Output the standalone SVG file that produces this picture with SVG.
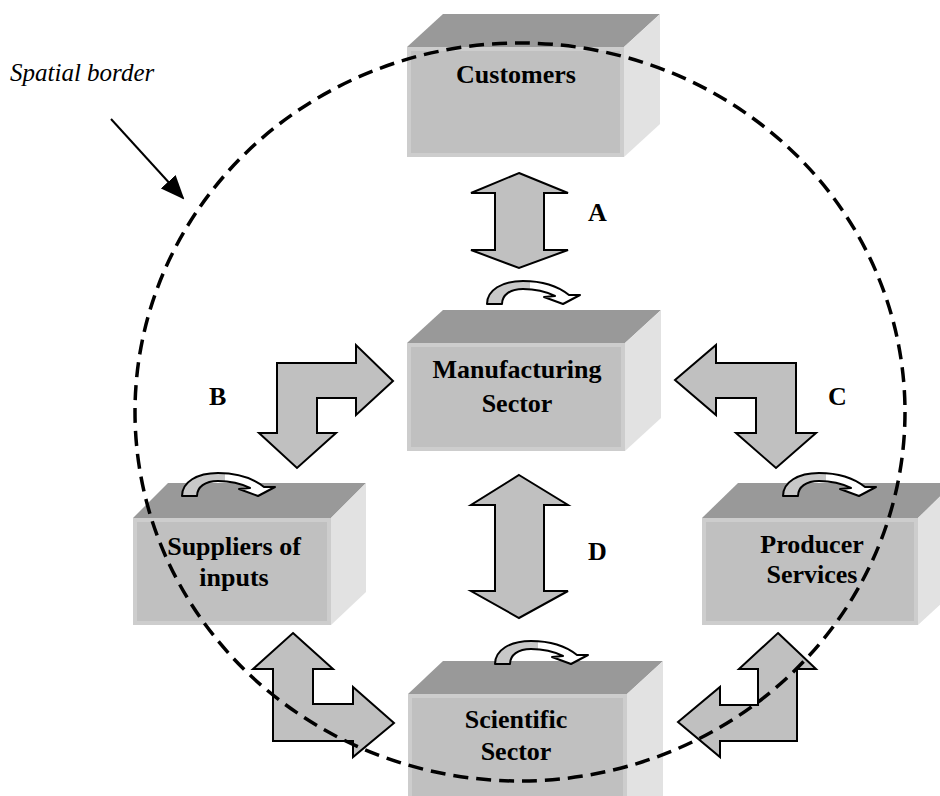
<svg xmlns="http://www.w3.org/2000/svg" width="940" height="796" viewBox="0 0 940 796">
<defs>
<style>
.top{fill:#999999}
.front{fill:#c0c0c0;stroke:#cdcdcd;stroke-width:4}
.side{fill:#e2e2e2}
.lbl{font-family:"Liberation Serif","Times New Roman",serif;font-weight:bold;font-size:26px;fill:#000;text-anchor:middle}
.let{font-family:"Liberation Serif","Times New Roman",serif;font-weight:bold;font-size:26px;fill:#000}
.blk{fill:#c0c0c0;stroke:#000;stroke-width:2;stroke-linejoin:miter}
.curve{fill:url(#cg);stroke:#000;stroke-width:2;stroke-linejoin:round}
</style>
<linearGradient id="cg" x1="0" y1="0" x2="1" y2="0">
<stop offset="0" stop-color="#c8c8c8"/>
<stop offset="0.46" stop-color="#c8c8c8"/>
<stop offset="0.46" stop-color="#ffffff"/>
<stop offset="1" stop-color="#ffffff"/>
</linearGradient>
<path id="curv" class="curve" d="M0,22 C0,8 15,-1 36,-1 C56,-1 72,5 82,13 L93,13 L76,22 L57,15 L68,14 C58,9 48,7 36,7 C23,7 15,13 15,22 Z"/>
<marker id="ah" markerWidth="24" markerHeight="20" refX="22" refY="10" orient="auto" markerUnits="userSpaceOnUse" viewBox="0 0 24 20">
<path d="M0,0 L24,10 L0,20 Z" fill="#000"/>
</marker>
</defs>
<rect width="940" height="796" fill="#fff"/>

<g id="customers">
<polygon class="top" points="407,47 443,14 660,14 624,47"/>
<polygon class="side" points="624,47 660,14 660,124 624,157"/>
<rect class="front" x="409" y="49" width="213" height="106"/>
<text class="lbl" x="516" y="83">Customers</text>
</g>

<g id="manufacturing">
<polygon class="top" points="407,343 443,310 661,310 625,343"/>
<polygon class="side" points="625,343 661,310 661,418 625,451"/>
<rect class="front" x="409" y="345" width="214" height="104"/>
<text class="lbl" x="517" y="378">Manufacturing</text>
<text class="lbl" x="517" y="412">Sector</text>
</g>

<g id="suppliers">
<polygon class="top" points="133,518 168,483 366,483 331,518"/>
<polygon class="side" points="331,518 366,483 366,592 331,625"/>
<rect class="front" x="135" y="520" width="194" height="103"/>
<text class="lbl" x="234" y="555">Suppliers of</text>
<text class="lbl" x="234" y="586">inputs</text>
</g>

<g id="producer">
<polygon class="top" points="702,518 738,483 954,483 918,518"/>
<polygon class="side" points="918,518 954,483 954,592 918,625"/>
<rect class="front" x="704" y="520" width="212" height="103"/>
<text class="lbl" x="812" y="553">Producer</text>
<text class="lbl" x="812" y="583">Services</text>
</g>

<g id="scientific">
<polygon class="top" points="408,694 443,661 663,661 627,694"/>
<polygon class="side" points="627,694 663,661 663,800 627,800"/>
<rect class="front" x="410" y="696" width="215" height="110"/>
<text class="lbl" x="516" y="728">Scientific</text>
<text class="lbl" x="516" y="760">Sector</text>
</g>

<g id="connectors">
<polygon id="arrowA" class="blk" points="519,173 568,193 544,193 544,250 568,250 519,268 471,250 495,250 495,193 471,193"/>
<polygon id="arrowD" class="blk" points="519,475 568,505 544,505 544,591 568,591 519,618 471,591 495,591 495,505 471,505"/>
<polygon id="arrowB" class="blk" points="393,381 356,415 356,398 317,398 317,433 336,433 297,468 259,433 277,433 277,363 356,363 356,345"/>
<polygon id="arrowC" class="blk" points="675,380 716,345 716,363 796,363 796,433 816,433 776,468 736,433 756,433 756,398 716,398 716,415"/>
<polygon id="arrowSL" class="blk" points="293,633 333,669 313,669 313,704 353,704 353,687 394,723 353,757 353,741 273,741 273,669 253,669"/>
<polygon id="arrowSR" class="blk" points="778,633 816,669 797,669 797,741 720,741 720,757 678,722 720,687 720,705 758,705 758,669 739,669"/>
<use href="#curv" x="487" y="282"/>
<use href="#curv" x="182" y="474"/>
<use href="#curv" x="783" y="474"/>
<use href="#curv" x="495" y="642"/>
<line x1="111" y1="119" x2="183" y2="198" stroke="#000" stroke-width="2" marker-end="url(#ah)"/>
</g>

<g id="labels">
<text class="let" x="588" y="221">A</text>
<text class="let" x="209" y="405">B</text>
<text class="let" x="828" y="405">C</text>
<text class="let" x="588" y="560">D</text>
<text x="10" y="81" font-family="'Liberation Serif','Times New Roman',serif" font-style="italic" font-size="25" fill="#000">Spatial border</text>
</g>

<g id="border">
<ellipse cx="520" cy="412" rx="385" ry="369" fill="none" stroke="#000" stroke-width="3.5" stroke-dasharray="15,8"/>
</g>
</svg>
